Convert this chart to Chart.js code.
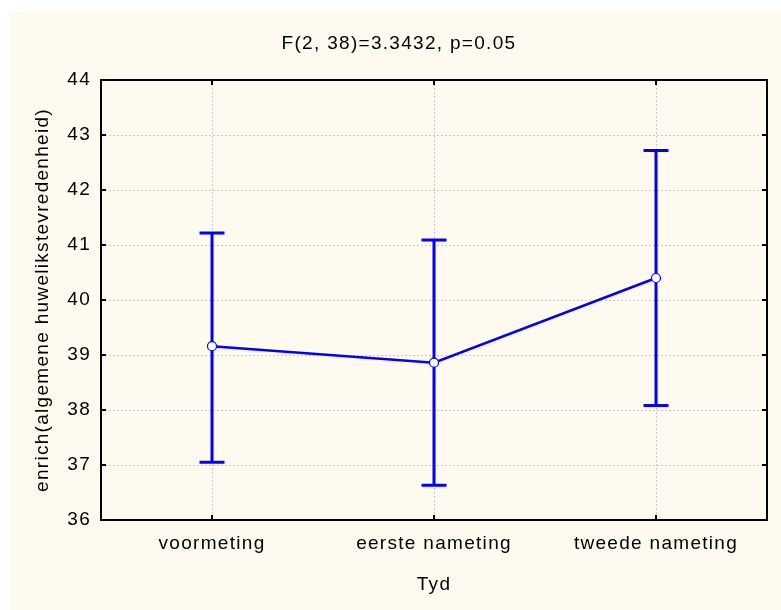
<!DOCTYPE html>
<html>
<head>
<meta charset="utf-8">
<script src="https://cdn.jsdelivr.net/npm/chart.js@4/dist/chart.umd.min.js"></script>
<style>
  html, body { margin: 0; padding: 0; background: #ffffff; }
  #vak { position: absolute; left: 9px; top: 12px; width: 772px; height: 598px; background: #fefaf0; }
</style>
</head>
<body>
<div id="vak"><canvas id="grafiek" width="772" height="598"></canvas></div>
<script>
// waarden
const categorieen = ['voormeting', 'eerste nameting', 'tweede nameting'];
const gemiddelden = [39.16, 38.86, 40.40];
const ondergrens = [37.05, 36.63, 38.08];
const bovengrens = [41.22, 41.09, 42.72];
const yTicks = [36, 37, 38, 39, 40, 41, 42, 43, 44];

const lettertype = "'Liberation Sans', Arial, sans-serif";
const blauw = '#0000ff';

// iets ruimere letters, zoals in het origineel
const letterruimte = {
  id: 'letterruimte',
  beforeUpdate(chart) { chart.ctx.letterSpacing = '1.3px'; },
  beforeDraw(chart) { chart.ctx.letterSpacing = '1.3px'; }
};

// foutbalken, kader en korte streepjes binnen het kader
const foutbalken = {
  id: 'foutbalken',
  beforeDatasetsDraw(chart) {
    const { ctx, chartArea, scales } = chart;
    const x = scales.x, y = scales.y;
    ctx.save();

    // kader
    ctx.strokeStyle = '#000';
    ctx.lineWidth = 2;
    ctx.strokeRect(chartArea.left, chartArea.top, chartArea.right - chartArea.left, chartArea.bottom - chartArea.top);

    // streepjes
    const lengte = 5;
    ctx.beginPath();
    yTicks.forEach(v => {
      const py = y.getPixelForValue(v);
      ctx.moveTo(chartArea.left, py); ctx.lineTo(chartArea.left + lengte, py);
      ctx.moveTo(chartArea.right, py); ctx.lineTo(chartArea.right - lengte, py);
    });
    categorieen.forEach((c, i) => {
      const px = x.getPixelForValue(i);
      ctx.moveTo(px, chartArea.bottom); ctx.lineTo(px, chartArea.bottom - lengte);
      ctx.moveTo(px, chartArea.top); ctx.lineTo(px, chartArea.top + lengte);
    });
    ctx.stroke();

    // foutbalken
    ctx.strokeStyle = blauw;
    ctx.lineWidth = 3;
    const kap = 12.5;
    categorieen.forEach((c, i) => {
      const px = x.getPixelForValue(i);
      const pLaag = y.getPixelForValue(ondergrens[i]);
      const pHoog = y.getPixelForValue(bovengrens[i]);
      ctx.beginPath();
      ctx.moveTo(px, pLaag); ctx.lineTo(px, pHoog);
      ctx.moveTo(px - kap, pLaag); ctx.lineTo(px + kap, pLaag);
      ctx.moveTo(px - kap, pHoog); ctx.lineTo(px + kap, pHoog);
      ctx.stroke();
    });
    ctx.restore();
  }
};

const ctx = document.getElementById('grafiek').getContext('2d');
window.mijnGrafiek = new Chart(ctx, {
  type: 'line',
  data: {
    labels: categorieen,
    datasets: [{
      label: 'gemiddelde',
      data: gemiddelden,
      borderColor: blauw,
      borderWidth: 2.5,
      backgroundColor: '#ffffff',
      pointBackgroundColor: '#ffffff',
      pointBorderColor: blauw,
      pointBorderWidth: 1.2,
      pointRadius: 4.5,
      fill: false,
      tension: 0
    }]
  },
  options: {
    responsive: false,
    animation: false,
    layout: { padding: { left: 22, right: 14, top: 0, bottom: 0 } },
    plugins: {
      legend: { display: false },
      tooltip: { enabled: false },
      title: {
        display: true,
        text: 'F(2, 38)=3.3432, p=0.05',
        color: '#000',
        font: { family: lettertype, size: 19, weight: 'normal' },
        padding: { top: 20, bottom: 25.2 }
      }
    },
    scales: {
      x: {
        offset: true,
        grid: {
          offset: false,
          drawTicks: false,
          color: '#c8c8c8',
          lineWidth: 1
        },
        border: { display: false, dash: [2, 2] },
        ticks: {
          color: '#000',
          padding: 12,
          font: { family: lettertype, size: 19 }
        },
        title: {
          display: true,
          text: 'Tyd',
          color: '#000',
          font: { family: lettertype, size: 19 },
          padding: { top: 0, bottom: 13.6 }
        },
        afterFit: s => { s.height = 90; }
      },
      y: {
        min: 36,
        max: 44,
        afterBuildTicks: s => { s.ticks = yTicks.map(v => ({ value: v })); },
        grid: {
          drawTicks: false,
          color: c => (c.tick && (c.tick.value === 36 || c.tick.value === 44)) ? 'rgba(0,0,0,0)' : '#c8c8c8',
          lineWidth: 1
        },
        border: { display: false, dash: [2, 2] },
        ticks: {
          color: '#000',
          padding: 10,
          font: { family: lettertype, size: 19 }
        },
        title: {
          display: true,
          text: 'enrich(algemene huwelikstevredenheid)',
          color: '#000',
          font: { family: lettertype, size: 19 },
          padding: { top: 0.6, bottom: 0 }
        },
        afterFit: s => { s.width = 70; }
      }
    }
  },
  plugins: [letterruimte, foutbalken]
});
</script>
</body>
</html>
